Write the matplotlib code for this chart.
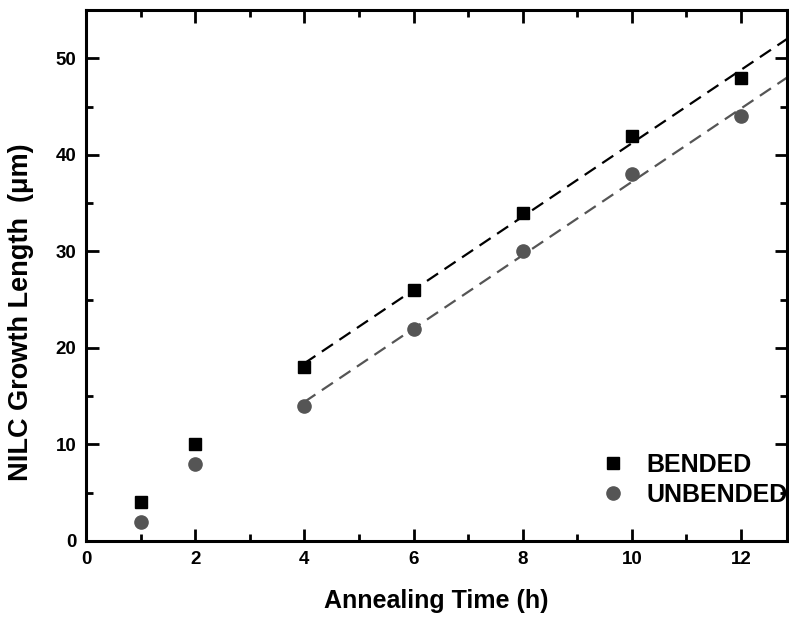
import numpy as np
import matplotlib
matplotlib.use("Agg")
import matplotlib.pyplot as plt
from matplotlib.ticker import MultipleLocator

plt.rcParams['font.family'] = ['Liberation Sans', 'DejaVu Sans']
plt.rcParams['font.weight'] = 'bold'

time_h = [1, 2, 4, 6, 8, 10, 12]
bended = [4, 10, 18, 26, 34, 42, 48]
unbended = [2, 8, 14, 22, 30, 38, 44]
fit_start = 4

fig = plt.figure(figsize=(7.89, 6.17), dpi=100)
ax = fig.add_axes([0.109, 0.1232, 0.889, 0.8606])

XMAX = 12.85
t = np.array(time_h)
for vals, col in [(bended, 'black'), (unbended, '#555555')]:
    v = np.array(vals)
    m = t >= fit_start
    k, b = np.polyfit(t[m], v[m], 1)
    xs = np.array([fit_start, XMAX])
    ax.plot(xs, k * xs + b, color=col, lw=1.6, dashes=(6, 3.5), zorder=1)

ax.plot(time_h, bended, 's', color='black', ms=9, label='BENDED', zorder=3)
ax.plot(time_h, unbended, 'o', color='#555555', ms=9.5, mec='#555555', label='UNBENDED', zorder=3)

ax.set_xlim(0, XMAX)
ax.set_ylim(0, 55)
ax.xaxis.set_major_locator(MultipleLocator(2))
ax.xaxis.set_minor_locator(MultipleLocator(1))
ax.yaxis.set_major_locator(MultipleLocator(10))
ax.yaxis.set_minor_locator(MultipleLocator(5))
ax.tick_params(which='both', direction='in', top=True, right=True, width=2)
ax.tick_params(which='major', length=9, labelsize=13.5, pad=7)
ax.tick_params(which='minor', length=5)
for s in ax.spines.values():
    s.set_linewidth(2.2)
for lab in ax.get_xticklabels() + ax.get_yticklabels():
    lab.set_fontweight('bold')

ax.set_xlabel('Annealing Time (h)', fontsize=18, fontweight='bold', labelpad=15)
ax.set_ylabel('NILC Growth Length  (\u03bcm)', fontsize=19.5, fontweight='bold')
ax.yaxis.set_label_coords(-0.074, 0.43)

leg = ax.legend(loc='upper left', bbox_to_anchor=(0.715, 0.185), frameon=False,
                prop={'size': 18, 'weight': 'bold'}, handletextpad=0.75,
                labelspacing=0.25, handlelength=1.2, borderaxespad=0)

fig.savefig('out.png', dpi=100)
